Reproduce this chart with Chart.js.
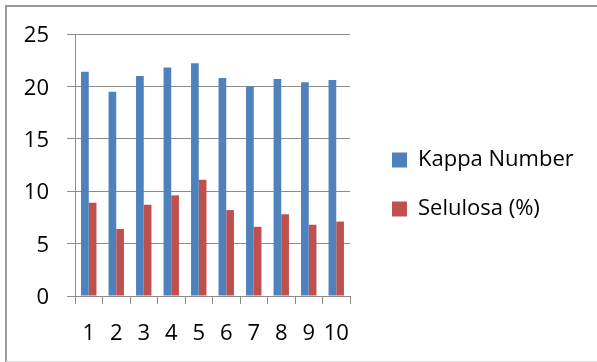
<!DOCTYPE html>
<html>
<head>
<meta charset="utf-8">
<script src="https://cdn.jsdelivr.net/npm/chart.js@4.4.1/dist/chart.umd.min.js"></script>
<style>
  html, body { margin: 0; padding: 0; background: #fff; }
  #frame { position: absolute; left: 5px; top: 5px; width: 600px; height: 354px;
           border-left: 2px solid #9a9a9a; border-top: 2px solid #9a9a9a; border-bottom: 1px solid #e0e0e0; }
  #wrap { position: absolute; left: 0; top: 0; width: 597px; height: 362px; }
</style>
</head>
<body>
<div id="frame"></div>
<div id="wrap"><canvas id="chart"></canvas></div>
<script>
var samples = ["1", "2", "3", "4", "5", "6", "7", "8", "9", "10"];
var kappaNumber = [21.4, 19.5, 21.0, 21.8, 22.2, 20.8, 20.0, 20.7, 20.4, 20.6];
var selulosa = [8.9, 6.4, 8.7, 9.6, 11.1, 8.2, 6.6, 7.8, 6.8, 7.1];
var yTicks = [0, 5, 10, 15, 20, 25];

var FONT = { family: "'Open Sans', sans-serif", size: 22 };
var GRID = "#8c8c8c";
var LEGEND_WIDTH = 232;
var LEGEND_TOP = 7;

// the layout caps side boxes at a fraction of the canvas, so widen the legend by hand
// and let it centre over the whole frame height instead of below the top padding
var wideLegend = {
    id: "wideLegend",
    beforeLayout: function (chart) {
        var lg = chart.legend;
        if (!lg || lg._wide) { return; }
        var fit = lg.fit;
        lg.fit = function () {
            fit.call(this);
            this.width = LEGEND_WIDTH;
        };
        lg._wide = true;
    },
    afterLayout: function (chart) {
        if (chart.legend) { chart.legend.top = LEGEND_TOP; }
    }
};

new Chart(document.getElementById("chart"), {
    type: "bar",
    data: {
        labels: samples,
        datasets: [
            { label: "Kappa Number", data: kappaNumber, backgroundColor: "#4f81bd" },
            { label: "Selulosa (%)", data: selulosa, backgroundColor: "#c0504d" }
        ]
    },
    plugins: [wideLegend],
    options: {
        responsive: true,
        maintainAspectRatio: false,
        animation: false,
        devicePixelRatio: 1,
        layout: { padding: { top: 34, left: 0, right: 0, bottom: 0 } },
        datasets: {
            bar: { categoryPercentage: 0.56, barPercentage: 1.0 }
        },
        scales: {
            x: {
                grid: { display: true, drawOnChartArea: false, color: GRID, tickLength: 8, offset: true },
                border: { display: true, color: GRID, width: 1 },
                ticks: { color: "#000", font: FONT, padding: 17, maxRotation: 0, autoSkip: false },
                afterFit: function (s) { s.height = 66; }
            },
            y: {
                min: 0,
                max: 25,
                afterBuildTicks: function (s) { s.ticks = yTicks.map(function (v) { return { value: v }; }); },
                grid: { color: GRID, tickLength: 8 },
                border: { display: true, color: GRID, width: 1 },
                ticks: { color: "#000", font: FONT, padding: 18, labelOffset: 2 },
                afterFit: function (s) { s.width = 75; }
            },
            // empty strip between plot and legend
            gap: {
                axis: "y",
                position: "right",
                display: true,
                grid: { display: false },
                border: { display: false },
                ticks: { display: false },
                afterFit: function (s) { s.width = 15; }
            }
        },
        plugins: {
            legend: {
                position: "right",
                align: "center",
                labels: { color: "#000", font: FONT, boxWidth: 15, boxHeight: 15, padding: 27 }
            },
            tooltip: { enabled: false }
        }
    }
});
</script>
</body>
</html>
